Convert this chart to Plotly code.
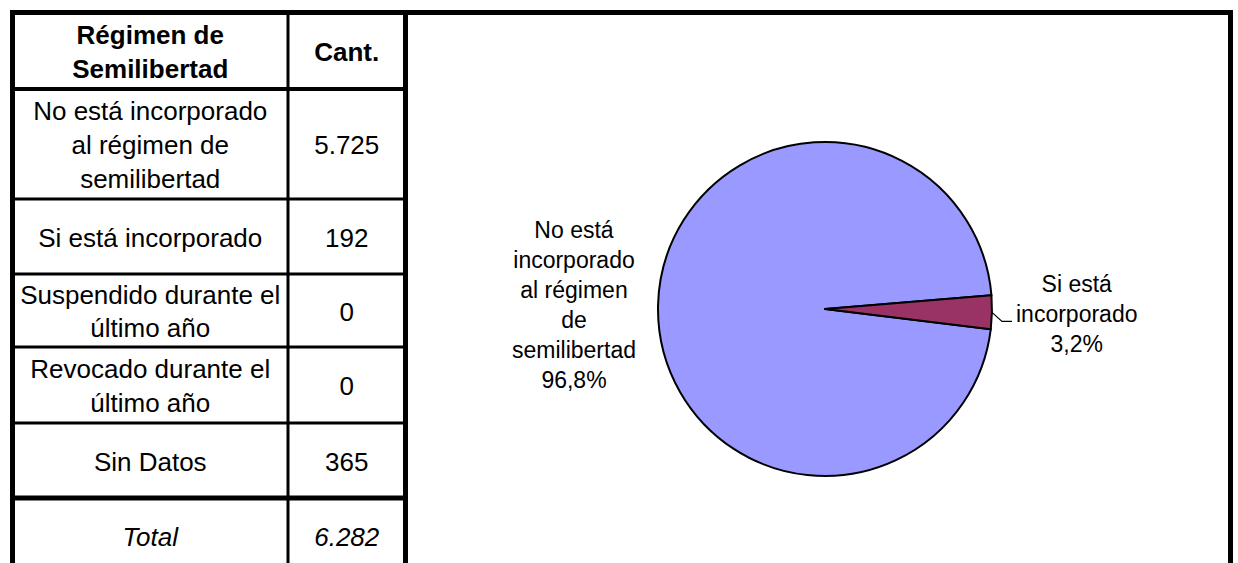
import math
import textwrap
import plotly.graph_objects as go

# ---------------- data ----------------
header = ["Régimen de Semilibertad", "Cant."]
categories = [
    "No está incorporado al régimen de semilibertad",
    "Si está incorporado",
    "Suspendido durante el último año",
    "Revocado durante el último año",
    "Sin Datos",
]
counts = [5725, 192, 0, 0, 365]
total_label = "Total"

pie_labels = categories[:2]
pie_values = counts[:2]
pie_colors = ["#9999FF", "#993366"]

# ---------------- layout constants ----------------
W, H = 1238, 563
FONT = "Arial, Liberation Sans, sans-serif"
TABLE_FONT_SIZE = 26
PIE_FONT_SIZE = 23
TOP = 12.5
COL_X = [12.5, 288, 405.5]          # table column boundaries
FRAME_RIGHT = 1230.5
ROW_HEIGHTS = [76.5, 110, 75, 73, 76, 75, 75]
LINE_W = [5, 4, 3, 3, 3, 3, 5]      # thickness of the line above each row
TEXT_DY = 3.5                       # small downward nudge for cell text
CX, CY, R = 825, 309, 167           # pie centre / radius (px)
ROTATION = 97.0                     # start angle, clockwise from 12 o'clock


def fmt(n):
    return f"{n:,}".replace(",", ".")


def wrap(s, width):
    return "<br>".join(textwrap.wrap(s, width))


rows = [("<b>" + wrap(header[0], 21) + "</b>", "<b>" + header[1] + "</b>")]
rows += [(wrap(c, 21), fmt(v)) for c, v in zip(categories, counts)]
rows += [("<i>" + total_label + "</i>", "<i>" + fmt(sum(counts)) + "</i>")]

bounds = [TOP]
for h in ROW_HEIGHTS:
    bounds.append(bounds[-1] + h)

tx, ty, tt = [], [], []
for i, (a, b) in enumerate(rows):
    yc = (bounds[i] + bounds[i + 1]) / 2 + TEXT_DY
    for j, txt in enumerate((a, b)):
        tx.append((COL_X[j] + COL_X[j + 1]) / 2)
        ty.append(yc)
        tt.append(txt)

fig = go.Figure()

fig.add_trace(go.Scatter(
    x=tx, y=ty, text=tt, mode="text",
    textfont=dict(family=FONT, size=TABLE_FONT_SIZE, color="black"),
    hoverinfo="skip", showlegend=False,
))

fig.add_trace(go.Pie(
    labels=pie_labels,
    values=pie_values,
    sort=False,
    direction="clockwise",
    rotation=ROTATION,
    marker=dict(colors=pie_colors, line=dict(color="black", width=2)),
    textinfo="none",
    domain=dict(x=[(CX - R) / W, (CX + R) / W],
                y=[(H - CY - R) / H, (H - CY + R) / H]),
    showlegend=False,
    hoverinfo="label+value+percent",
))

shapes = []
annotations = []

# pie labels placed at each slice's mid-angle
tot = sum(pie_values)
cum = 0
for lab, v in zip(pie_labels, pie_values):
    mid = math.radians(ROTATION + (cum + v / 2) / tot * 360)
    cum += v
    sx, sy = math.sin(mid), -math.cos(mid)
    pct = f"{v / tot * 100:.1f}".replace(".", ",") + "%"
    text = wrap(lab, 12) + "<br>" + pct
    if sx < 0:
        gap = 20
        ax, ay = CX + (R + gap) * sx, CY + (R + gap) * sy
        annotations.append(dict(x=ax, y=ay, xref="x", yref="y", text=text,
                                showarrow=False, xanchor="right", yanchor="middle",
                                align="center",
                                font=dict(family=FONT, size=PIE_FONT_SIZE, color="black")))
    else:
        # elbow leader line from slice edge to label
        ex, ey = CX + R * sx, CY + R * sy
        p1 = (ex + 10, ey + 9)
        p2 = (p1[0] + 10, p1[1])
        shapes.append(dict(type="path", xref="x", yref="y",
                           path=f"M {ex},{ey} L {p1[0]},{p1[1]} L {p2[0]},{p2[1]}",
                           line=dict(color="black", width=1.2)))
        annotations.append(dict(x=p2[0] + 2, y=ey + 2, xref="x", yref="y", text=text,
                                showarrow=False, xanchor="left", yanchor="middle",
                                align="center",
                                font=dict(family=FONT, size=PIE_FONT_SIZE, color="black")))

# horizontal table lines
for k in range(len(ROW_HEIGHTS)):
    x1 = FRAME_RIGHT + 2.5 if k == 0 else COL_X[-1]
    shapes.append(dict(type="line", xref="x", yref="y",
                       x0=COL_X[0] - 2.5, x1=x1, y0=bounds[k], y1=bounds[k],
                       line=dict(color="black", width=LINE_W[k])))
# vertical lines
for x, w in [(COL_X[0], 5), (COL_X[1], 3), (COL_X[2], 5), (FRAME_RIGHT, 5)]:
    shapes.append(dict(type="line", xref="x", yref="y",
                       x0=x, x1=x, y0=TOP - 2.5, y1=H,
                       line=dict(color="black", width=w)))

fig.update_layout(
    width=W, height=H,
    margin=dict(l=0, r=0, t=0, b=0),
    paper_bgcolor="white", plot_bgcolor="white",
    separators=",.",
    xaxis=dict(range=[0, W], visible=False, fixedrange=True, domain=[0, 1]),
    yaxis=dict(range=[H, 0], visible=False, fixedrange=True, domain=[0, 1]),
    shapes=shapes,
    annotations=annotations,
    font=dict(family=FONT, color="black"),
)

fig.write_html("out.html", config={"displayModeBar": False},
               post_script="document.body.style.margin='0';")
